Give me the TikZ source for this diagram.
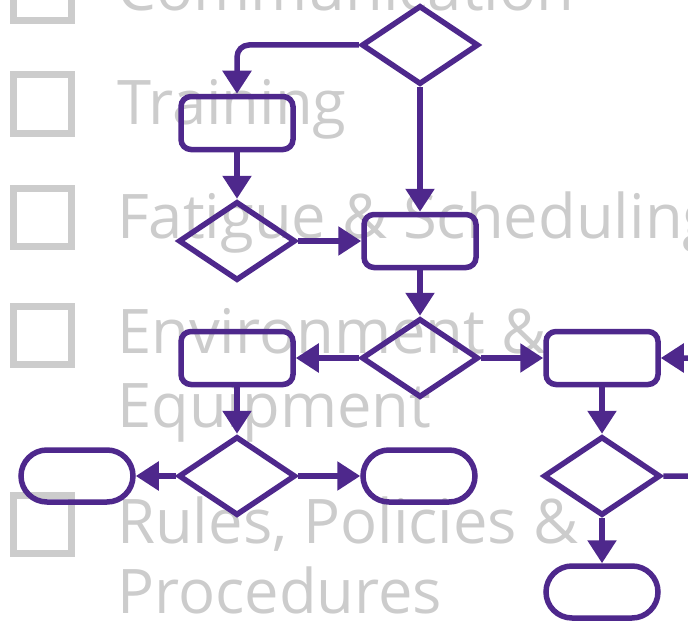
\documentclass[tikz,border=0pt]{standalone}
\usepackage{fontspec}
\usepackage{tikz}
\usetikzlibrary{shapes.geometric, arrows.meta}
\newfontfamily\listfont{Open Sans}
\definecolor{flowpurple}{RGB}{78,40,140}
\definecolor{listgray}{RGB}{204,204,204}

\begin{document}
\begin{tikzpicture}[
    x=1pt, y=-1pt,
    item/.style={anchor=base west, inner sep=0pt, text=listgray, font=\listfont\fontsize{61.5pt}{74pt}\selectfont},
    checkbox/.style={rectangle, draw=listgray, line width=7pt, minimum size=58pt, inner sep=0pt},
    proc/.style={rectangle, draw=flowpurple, line width=5.5pt, rounded corners=10pt, minimum width=112pt, minimum height=53pt, inner sep=0pt},
    term/.style={proc, rounded corners=26pt, minimum height=52pt},
    choice/.style={diamond, draw=flowpurple, line width=5.5pt, minimum width=117pt, minimum height=79pt, inner sep=0pt},
    arr/.style={-{Triangle[length=23pt, width=28pt]}, line width=5.5pt, flowpurple}
]
\path[use as bounding box, clip] (0,0) rectangle (688,626);

% checklist behind the chart
\node[checkbox] (box1) at (42.5,-8.5) {};
\node[checkbox] (box2) at (42.5,104) {};
\node[checkbox] (box3) at (42.5,217.5) {};
\node[checkbox] (box4) at (42.5,335.5) {};
\node[checkbox] (box5) at (42.5,524.5) {};
\node[item] (txt1) at (117,11) {Communication};
\node[item] (txt2) at (117,124) {Training};
\node[item] (txt3) at (117,238) {Fatigue \& Scheduling};
\node[item] (txt4) at (117,353) {Environment \&};
\node[item] (txt4b) at (117,427) {Equipment};
\node[item] (txt5) at (117,543) {Rules, Policies \&};
\node[item] (txt5b) at (117,613) {Procedures};

% flowchart
\node[choice] (q1) at (420,45) {};
\node[proc] (p1) at (237,123) {};
\node[choice] (q2) at (237,241) {};
\node[proc] (p2) at (420,241) {};
\node[choice] (q3) at (420,358) {};
\node[proc] (p3) at (237,358) {};
\node[proc] (p4) at (602,358) {};
\node[choice] (q4) at (237,476) {};
\node[choice] (q5) at (602,476) {};
\node[term] (t1) at (77,476) {};
\node[term] (t2) at (419,476) {};
\node[term] (t3) at (602,592) {};
\coordinate (back) at (705,358);

\draw[arr, rounded corners=12pt] (q1.west) -| (p1.north);
\draw[arr] (q1.south) -- (p2.north);
\draw[arr] (p1.south) -- (q2.north);
\draw[arr] (q2.east) -- (p2.west);
\draw[arr] (p2.south) -- (q3.north);
\draw[arr] (q3.west) -- (p3.east);
\draw[arr] (q3.east) -- (p4.west);
\draw[arr] (p3.south) -- (q4.north);
\draw[arr] (q4.west) -- (t1.east);
\draw[arr] (q4.east) -- (t2.west);
\draw[arr] (p4.south) -- (q5.north);
\draw[arr] (q5.south) -- (t3.north);
\draw[arr, rounded corners=12pt] (q5.east) -| (back) -- (p4.east);
\end{tikzpicture}
\end{document}
